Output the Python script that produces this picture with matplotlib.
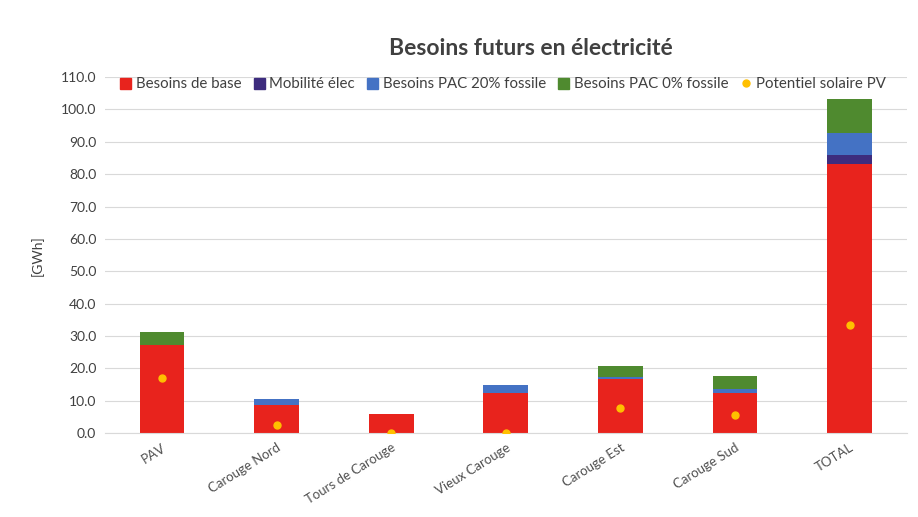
import numpy as np
import matplotlib.pyplot as plt
from matplotlib.lines import Line2D
from matplotlib.patches import Patch

plt.rcParams['font.family'] = ['Lato', 'DejaVu Sans']

# data (GWh)
zones = ['PAV', 'Carouge Nord', 'Tours de Carouge', 'Vieux Carouge',
         'Carouge Est', 'Carouge Sud', 'TOTAL']
base = [27.2, 8.7, 5.9, 12.3, 16.9, 12.3, 83.0]
mobilite = [0.0, 0.0, 0.0, 0.0, 0.0, 0.0, 2.8]
pac20 = [0.0, 1.8, 0.0, 2.7, 0.4, 1.5, 7.0]
pac0 = [4.1, 0.0, 0.0, 0.0, 3.4, 3.8, 10.5]
solaire = [17.1, 2.6, 0.2, 0.2, 7.7, 5.6, 33.4]

c_base = '#e8231d'
c_mob = '#3d2c7e'
c_pac20 = '#4472c4'
c_pac0 = '#4f8a2f'
c_sol = '#ffc000'

fig = plt.figure(figsize=(9.18, 5.17), dpi=100)
fig.patch.set_facecolor('white')
ax = fig.add_axes([0.114, 0.162, 0.874, 0.689])

x = np.arange(len(zones))
w = 0.39
b1 = np.array(base)
b2 = b1 + np.array(mobilite)
b3 = b2 + np.array(pac20)
ax.bar(x, base, w, color=c_base, zorder=2)
ax.bar(x, mobilite, w, bottom=b1, color=c_mob, zorder=2)
ax.bar(x, pac20, w, bottom=b2, color=c_pac20, zorder=2)
ax.bar(x, pac0, w, bottom=b3, color=c_pac0, zorder=2)
ax.plot(x, solaire, 'o', color=c_sol, ms=5, zorder=3)

ax.set_xlim(-0.5, len(zones) - 0.5)
ax.set_ylim(0, 110)
yt = np.arange(0, 111, 10)
ax.set_yticks(yt)
ax.set_yticklabels(['%.1f' % v for v in yt], fontsize=10, color='#404040')
ax.set_xticks(x)
ax.set_xticklabels(zones, rotation=32, ha='right', rotation_mode='anchor',
                   fontsize=9.5, color='#505050')
ax.tick_params(length=0, pad=6)
ax.grid(axis='y', color='#d9d9d9', lw=0.8, zorder=0)
for s in ['top', 'right', 'left']:
    ax.spines[s].set_visible(False)
ax.spines['bottom'].set_color('#d9d9d9')
ax.set_ylabel('[GWh]', fontsize=10, color='#404040', labelpad=12)

fig.text(0.578, 0.907, 'Besoins futurs en électricité', ha='center', va='center',
         fontsize=16.5, fontweight='bold', color='#404040')

handles = [Patch(color=c_base, label='Besoins de base'),
           Patch(color=c_mob, label='Mobilité élec'),
           Patch(color=c_pac20, label='Besoins PAC 20% fossile'),
           Patch(color=c_pac0, label='Besoins PAC 0% fossile'),
           Line2D([], [], marker='o', ls='', color=c_sol, ms=5,
                  label='Potentiel solaire PV')]
fig.legend(handles=handles, loc='center', bbox_to_anchor=(0.548, 0.837), ncol=5,
           frameon=False, fontsize=10.8, handlelength=0.75, handleheight=0.75,
           handletextpad=0.3, columnspacing=0.8, labelcolor='#404040')

fig.savefig('out.png', dpi=100)
